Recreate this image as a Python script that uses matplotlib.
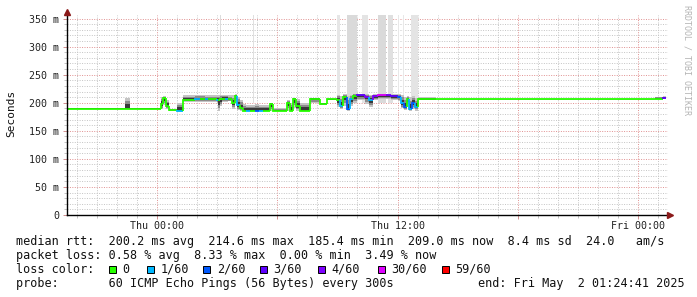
import numpy as np
import matplotlib.pyplot as plt
from matplotlib.collections import LineCollection
from matplotlib.patches import Rectangle

plt.rcParams['font.family'] = 'DejaVu Sans Mono'

# stretches of the graph, time in hours after Thu 00:00, values in ms
seg_start = [-4.50, -1.60, -1.35, 0.20, 0.30, 0.45, 0.60, 1.00, 1.30, 1.90,
             2.15, 2.40, 2.55, 3.00, 3.05, 3.15, 3.25, 3.40, 3.55, 3.75,
             3.90, 4.00, 4.15, 4.30, 4.45, 4.65, 4.90, 5.10, 5.30, 5.65,
             5.80, 6.50, 6.65, 6.80, 6.95, 7.15, 7.65, 8.15, 8.50, 9.00,
             9.15, 9.30, 9.50, 9.65, 9.80, 10.00, 10.40, 10.55, 10.75, 11.00,
             11.40, 11.65, 12.00, 12.15, 12.30, 12.45, 12.55, 12.70, 12.85, 13.00,
             13.90, 24.85, 25.25]
seg_median = [189.5, 189.5, 189.5, 198, 208, 195, 187, 186, 205, 206,
              206, 206, 206, 205, 204, 206, 207, 207, 206, 200,
              212, 196, 190, 186, 186, 186, 186, 186, 186, 198,
              186, 200, 186, 207, 194, 186, 207, 198, 206, 205,
              195, 210, 189, 206, 212, 213, 211, 205, 212, 213,
              213, 212, 211, 200, 193, 206, 189, 200, 193, 206,
              206.5, 206.5, 209]
seg_lo = [189, 189, 189, 188, 196, 188, 185, 184, 201, 202,
          202, 201, 202, 200, 186, 195, 202, 202, 203, 188,
          198, 187, 186, 185, 185, 185, 185, 185, 185, 186,
          185, 186, 185, 190, 186, 185, 200, 196, 204, 192,
          188, 195, 186, 195, 200, 205, 198, 193, 205, 207,
          206, 205, 203, 190, 187, 193, 186, 188, 186, 204,
          205.5, 205.5, 206]
seg_hi = [190.5, 209, 190.5, 210, 212, 205, 189, 200, 213, 214,
          214, 213, 213, 213, 214, 214, 214, 214, 213, 213,
          215, 210, 205, 197, 196, 196, 197, 196, 196, 200,
          190, 205, 200, 209, 206, 200, 209, 200, 208, 214,
          212, 215, 212, 214, 216, 216, 215, 214, 215, 216,
          216, 215, 215, 214, 210, 212, 210, 212, 208, 210,
          207.5, 211, 212]
seg_loss = [0, 0, 0, 0, 0, 0, 0, 1, 0, 1,
            0, 1, 0, 1, 0, 0, 0, 1, 0, 0,
            0, 1, 0, 0, 1, 0, 2, 1, 0, 0,
            0, 0, 0, 0, 0, 0, 0, 0, 0, 0,
            1, 0, 2, 1, 0, 3, 4, 1, 4, 5,
            4, 3, 2, 1, 2, 0, 1, 2, 1, 0,
            0, 0, 3]
data_end = 25.41

# slow pings running off the top of the graph
spike_start = [3.12, 4.78, 9.00, 9.50, 10.25, 11.00, 11.50, 12.00, 12.25, 12.65]
spike_end = [3.18, 4.84, 9.15, 10.00, 10.50, 11.40, 11.75, 12.05, 12.30, 13.00]
spike_shade = ['#dcdcdc', '#e0e0e0', '#e6e6e6', '#dadada', '#e4e4e4',
               '#dadada', '#e0e0e0', '#e8e8e8', '#e8e8e8', '#e4e4e4']

loss_colors = ['#26ff00', '#00b8ff', '#0059ff', '#5e00ff', '#7e00ff', '#dd00ff', '#ff0000']
loss_labels = ['0', '1/60', '2/60', '3/60', '4/60', '30/60', '59/60']

W, H = 697, 297
fig = plt.figure(figsize=(W / 100, H / 100), dpi=100, facecolor='white')
ax = fig.add_axes([67 / W, 82 / H, 601 / W, 200.4 / H])
ax.set_xlim(-4.5, 25.5)
ax.set_ylim(0, 357)

# smoke
for t0, t1, shade in zip(spike_start, spike_end, spike_shade):
    ax.fill_between([t0, t1], 200, 370, color=shade, lw=0, zorder=2)

t = np.array(seg_start + [data_end])
med = np.array(seg_median + [seg_median[-1]])
lo = np.array(seg_lo + [seg_lo[-1]])
hi = np.array(seg_hi + [seg_hi[-1]])
for f, shade in [(1.0, '#c4c4c4'), (0.7, '#8c8c8c'), (0.4, '#3a3a3a')]:
    ax.fill_between(t, med - f * (med - lo), med + f * (hi - med),
                    step='post', color=shade, lw=0, zorder=3)

# median line coloured by loss
segs = []
for i in range(len(seg_start)):
    t0, t1 = t[i], t[i + 1]
    if i == 0:
        segs.append([(t0, med[i]), (t1, med[i])])
    else:
        segs.append([(t0, med[i - 1]), (t0, med[i]), (t1, med[i])])
ax.add_collection(LineCollection(segs, colors=[loss_colors[k] for k in seg_loss],
                                 linewidths=1.3, capstyle='butt', joinstyle='miter',
                                 zorder=4))

# grid and ticks
ax.set_xticks([0, 6, 12, 18, 24])
ax.set_xticklabels(['Thu 00:00', '', 'Thu 12:00', '', 'Fri 00:00'])
ax.set_xticks(np.arange(-4, 26, 1), minor=True)
ax.set_yticks(np.arange(0, 351, 50))
ax.set_yticklabels(['0'] + [f'{v} m' for v in range(50, 351, 50)])
ax.set_yticks(np.arange(0, 351, 10), minor=True)
ax.grid(which='minor', color='#c4c4c4', linestyle=(0, (1, 1.5)), lw=0.7, zorder=1)
ax.grid(which='major', color='#e09090', linestyle=(0, (1, 1.5)), lw=0.7, zorder=1)
ax.tick_params(which='major', length=3, width=0.7, color='#d09090', pad=1.5,
               labelsize=7.2, labelcolor='#222222')
ax.tick_params(which='minor', length=2, width=0.7, color='#c4c4c4')
ax.tick_params(axis='y', which='major', pad=2.5)
fig.text(11 / W, 1 - 113 / H, 'Seconds', rotation=90, va='center', ha='center',
         fontsize=8, color='#111111')

for s in ax.spines.values():
    s.set_visible(False)
ax.plot([-4.5, -4.5], [0, 361], color='black', lw=1, clip_on=False, zorder=6)
ax.plot([-4.5, 25.5], [0, 0], color='black', lw=1, clip_on=False, zorder=6)
ax.plot(-4.5, 362, marker='^', ms=4, color='#8b1a1a', clip_on=False, zorder=7)
ax.plot(25.62, 0, marker='>', ms=4, color='#8b1a1a', clip_on=False, zorder=7)

fig.text(687 / W, 1 - 5 / H, 'RRDTOOL / TOBI OETIKER', rotation=270, va='top',
         ha='center', fontsize=6, color='#b4b4b4')

# legend
fs = 8.5
def row(y, s, x=16, **kw):
    fig.text(x / W, 1 - y / H, s, fontsize=fs, va='center', ha='left', color='#111111', **kw)

row(241, 'median rtt:  200.2 ms avg  214.6 ms max  185.4 ms min  209.0 ms now  8.4 ms sd  24.0   am/s')
row(255.5, 'packet loss: 0.58 % avg  8.33 % max  0.00 % min  3.49 % now')
row(269.5, 'loss color:')
box_x = [109, 146.7, 203.3, 260, 318, 377.7, 441.7]
for bx, c, lab in zip(box_x, loss_colors, loss_labels):
    fig.add_artist(Rectangle((bx / W, 1 - 273 / H), 7 / W, 7 / H, transform=fig.transFigure,
                             facecolor=c, edgecolor='black', lw=0.7))
    row(269.5, lab, x=bx + 13.5)
row(283.5, 'probe:       60 ICMP Echo Pings (56 Bytes) every 300s')
row(283.5, 'end: Fri May  2 01:24:41 2025', x=478)

fig.savefig('out.png', dpi=100, facecolor='white')
